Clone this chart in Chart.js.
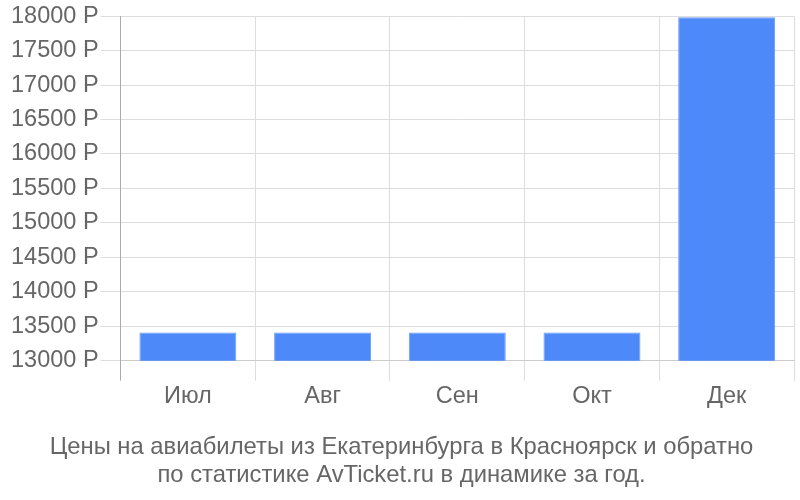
<!DOCTYPE html>
<html>
<head>
<meta charset="utf-8">
<script src="https://cdn.jsdelivr.net/npm/chart.js@4/dist/chart.umd.min.js"></script>
<style>
  body { margin: 0; background: #fff; }
  #wrap { width: 800px; height: 500px; }
</style>
</head>
<body>
<div id="wrap"><canvas id="price-chart"></canvas></div>
<script>
// Месяцы и цены
const months = ['Июл', 'Авг', 'Сен', 'Окт', 'Дек'];
const prices = [13410, 13410, 13410, 13410, 17985];
const titleLines = [
    'Цены на авиабилеты из Екатеринбурга в Красноярск и обратно',
    'по статистике AvTicket.ru в динамике за год.'
];

Chart.defaults.font.family = '"Liberation Sans", Arial, sans-serif';
Chart.defaults.color = '#666';

const ctx = document.getElementById('price-chart').getContext('2d');
const priceChart = new Chart(ctx, {
    type: 'bar',
    data: {
        labels: months,
        datasets: [{
            data: prices,
            backgroundColor: '#4e89f9',
            borderColor: '#6a9cfa',
            borderWidth: 1
        }]
    },
    options: {
        responsive: true,
        maintainAspectRatio: false,
        animation: false,
        layout: { padding: { left: 9, right: 6, top: 15, bottom: 10 } },
        plugins: {
            legend: { display: false },
            tooltip: { enabled: false },
            title: {
                display: true,
                position: 'bottom',
                text: titleLines,
                color: '#666',
                font: { size: 23.8, weight: 'normal' },
                padding: { top: 20, bottom: 0 },
                lineHeight: 1.22
            }
        },
        scales: {
            x: {
                grid: {
                    color: (c) => c.index === 0 ? '#aaa' : '#ddd',
                    lineWidth: 1,
                    tickLength: 20
                },
                border: { color: '#ccc' },
                ticks: { font: { size: 23.5 }, color: '#666', padding: 2 }
            },
            y: {
                min: 13000,
                max: 18000,
                grid: { color: '#ddd', tickLength: 20 },
                border: { color: '#aaa' },
                ticks: {
                    stepSize: 500,
                    font: { size: 23.5 },
                    color: '#666',
                    padding: 2,
                    callback: (v) => v + ' Р'
                }
            }
        }
    }
});
</script>
</body>
</html>
